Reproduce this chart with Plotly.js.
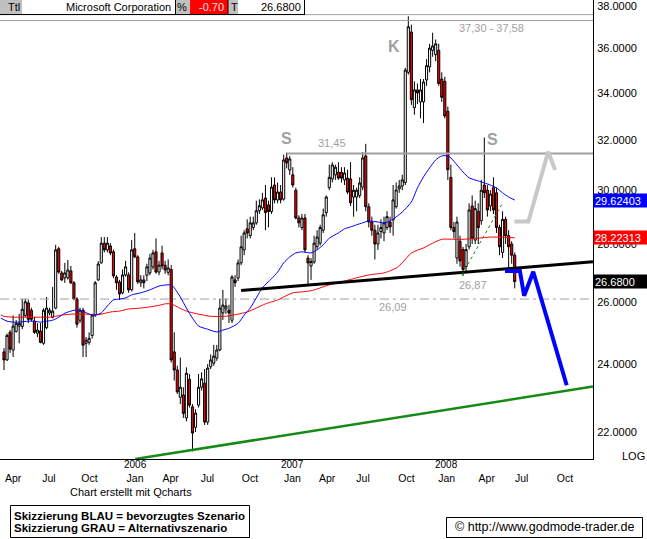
<!DOCTYPE html>
<html>
<head>
<meta charset="utf-8">
<script src="https://cdn.plot.ly/plotly-3.0.1.min.js"></script>
<style>
html,body{margin:0;padding:0;background:#fff;}
#chart{width:647px;height:539px;}
</style>
</head>
<body>
<div id="chart"></div>
<script>
// ---------- DATA (weekly bars, Microsoft Corporation) ----------
const open = [
24.38,24.13,25.00,24.44,25.03,25.20,25.19,25.55,25.96,25.72,
25.36,24.97,25.04,24.65,25.15,25.63,25.49,25.79,27.83,26.98,
26.81,26.81,27.05,26.64,26.09,25.39,25.72,24.65,24.68,24.90,
25.56,26.74,27.33,28.03,27.79,27.93,27.72,26.84,26.67,26.30,
26.91,26.91,26.40,27.83,27.54,26.64,26.74,26.90,26.98,27.19,
27.72,27.01,27.68,27.25,27.00,27.10,24.38,23.82,23.00,23.07,
22.40,23.54,22.72,22.13,22.77,23.30,23.42,22.28,23.92,24.03,
24.19,24.44,25.63,25.76,25.72,25.39,26.74,26.80,27.33,27.79,
28.55,28.30,28.60,28.77,29.22,29.33,29.70,29.44,29.19,30.20,
29.63,29.93,29.66,31.27,30.79,30.60,30.00,28.95,28.60,28.95,
27.50,27.22,27.36,27.90,28.03,28.50,29.15,30.10,30.44,30.60,
30.70,30.70,30.40,30.47,30.44,29.74,29.74,29.80,30.12,31.35,
29.37,28.80,28.50,28.00,28.45,28.40,28.60,28.80,28.88,29.37,
30.05,30.16,30.30,34.90,36.75,33.35,34.12,33.60,33.60,34.56,
35.15,35.90,35.70,35.90,34.60,34.50,33.20,30.50,28.60,27.50,
28.10,27.80,27.20,27.90,29.40,28.14,29.20,28.85,30.20,30.00,
29.40,30.10,29.90,28.60,27.70,28.90,28.30,28.00,27.60];
const high = [
24.50,24.96,25.07,25.55,25.40,25.60,26.10,26.10,26.06,25.80,
25.50,25.30,25.30,25.78,26.16,25.80,26.50,27.97,27.90,27.05,
27.33,27.43,27.22,26.70,26.15,25.80,25.80,24.85,25.00,25.60,
26.70,27.39,28.25,28.25,28.25,28.03,27.80,26.90,26.74,27.10,
27.40,27.00,28.14,28.40,27.60,26.90,26.90,27.30,27.65,27.79,
28.20,27.40,27.94,27.40,27.45,27.25,25.00,23.95,24.20,23.30,
23.90,23.70,22.80,22.65,23.70,23.75,23.85,24.00,24.30,24.60,
24.60,26.10,26.40,26.10,25.90,26.90,26.90,27.45,28.30,28.50,
28.90,29.00,29.00,29.60,29.65,29.90,30.20,29.60,30.50,30.50,
30.30,30.20,31.40,31.48,31.35,30.90,30.10,29.05,29.10,29.10,
27.60,27.50,28.30,28.50,28.70,29.30,29.80,31.00,31.10,31.00,
31.10,30.90,30.90,30.80,31.10,30.20,30.10,30.50,31.50,31.84,
29.50,29.00,28.70,28.70,28.90,29.00,29.20,29.00,30.20,30.30,
30.40,30.60,35.10,37.50,37.10,34.50,34.40,34.60,34.60,35.50,
36.20,36.72,36.40,36.20,34.90,34.70,33.40,31.00,28.80,29.00,
28.30,27.90,28.00,29.50,29.80,29.60,29.50,30.40,32.10,30.20,
30.00,30.50,30.10,28.70,29.20,29.00,28.50,28.10,27.70];
const low = [
23.82,24.10,24.35,24.22,24.99,24.65,25.10,25.50,25.30,25.35,
24.95,24.85,24.65,24.60,25.10,25.55,25.45,25.75,26.95,26.70,
26.64,26.75,26.60,26.05,25.15,25.30,24.22,24.22,24.60,24.80,
25.50,26.70,27.30,27.70,27.70,27.60,26.80,26.40,26.06,26.25,
26.85,26.30,26.35,27.50,26.60,26.50,26.45,26.70,26.90,27.10,
26.95,26.90,27.10,26.95,26.90,24.05,23.50,23.10,22.80,22.40,
22.30,22.70,21.46,22.00,22.70,23.20,22.20,22.20,23.85,23.95,
24.10,24.40,25.40,25.60,25.30,25.30,26.50,26.70,27.25,27.60,
28.20,28.20,28.50,28.70,29.10,29.25,28.50,28.60,29.10,29.50,
29.50,29.50,29.60,30.85,30.60,30.10,28.90,28.60,28.50,27.70,
26.57,26.74,27.30,27.80,27.95,28.40,29.00,30.00,30.30,30.40,
30.40,30.30,30.20,29.85,29.40,29.00,29.20,29.70,30.00,29.20,
28.60,28.30,27.45,27.79,28.20,28.10,28.50,28.40,28.30,29.30,
29.90,30.00,30.20,34.80,33.47,33.05,33.50,32.90,32.70,34.30,
34.90,35.60,35.40,34.30,33.60,32.90,30.40,28.50,28.20,27.30,
27.20,26.87,27.00,27.80,28.00,28.00,28.00,28.70,29.70,29.00,
29.20,29.10,28.40,27.60,27.50,28.00,27.15,27.30,26.45];
const close = [
24.13,24.90,24.47,25.20,25.29,25.29,25.75,26.00,25.42,25.42,
25.00,25.07,24.68,25.72,25.79,25.72,25.69,27.79,27.01,26.74,
26.98,27.08,26.64,26.09,25.26,25.72,24.59,24.75,24.81,25.56,
26.64,27.29,28.03,27.79,28.03,27.68,26.88,26.64,26.26,26.91,
27.19,26.40,27.79,27.54,26.67,26.74,26.64,27.19,27.50,27.68,
27.01,27.25,27.22,27.08,27.15,24.13,23.82,23.16,23.30,22.53,
23.72,22.77,21.97,22.54,23.30,23.55,22.28,23.88,24.13,24.25,
24.44,25.79,25.89,25.86,25.63,26.84,26.64,27.33,27.90,28.40,
28.40,28.77,28.77,29.22,29.41,29.63,29.15,29.19,30.12,29.63,
29.93,29.63,31.19,31.07,31.23,30.20,28.95,28.77,28.95,27.79,
27.33,27.38,28.03,28.25,28.60,29.07,29.74,30.50,30.99,30.90,
30.47,30.47,30.67,29.93,29.52,30.00,30.00,30.28,31.27,29.37,
28.80,28.50,28.00,28.40,28.60,28.77,29.00,28.62,29.63,30.01,
30.16,30.40,35.00,37.00,33.69,34.12,33.99,34.12,34.47,35.20,
36.00,36.10,36.20,34.40,33.80,33.00,30.80,28.60,28.45,28.80,
27.40,27.10,27.80,29.25,28.20,29.30,28.60,30.00,29.90,29.25,
29.85,29.25,28.60,27.90,28.90,28.30,27.90,27.60,26.68];

// moving averages (bar index, price)
const maShortX = [-1,1,3,5,8,10,12,14,16,18,20,22,24,26,28,30,32,34,36,38,40,42,45,48,51,55,56,58,60,62,64,67,70,72,74,77,79,81,83,85,88,90,92,94,96,98,101,103,105,107,110,112,114,116,118,120,123,125,127,129,131,134,136,138,140,142,144,146,147,149,151,153,156,158,160,162,164,166,168];
const maShortY = [25.46,25.36,25.33,25.33,25.36,25.36,25.33,25.36,25.39,25.49,25.62,25.69,25.73,25.69,25.59,25.56,25.63,25.86,26.06,26.09,26.13,26.23,26.30,26.40,26.53,26.57,26.47,26.16,25.79,25.46,25.20,25.10,25.01,25.07,25.13,25.29,25.56,25.79,26.13,26.47,26.78,27.01,27.33,27.54,27.68,27.72,27.68,27.79,27.97,28.21,28.40,28.55,28.62,28.70,28.77,28.84,28.80,28.77,28.84,28.99,29.17,29.55,30.09,30.52,30.87,31.19,31.35,31.35,31.27,30.99,30.71,30.48,30.36,30.28,30.20,30.09,29.90,29.74,29.62403];
const maLongX = [-1,0,3,8,12,15,17,19,22,27,31,35,38,41,45,48,51,53,55,57,59,61,64,68,73,77,80,83,86,90,92,95,98,101,103,107,111,116,120,125,129,131,134,138,141,144,148,151,156,160,163,168];
const maLongY = [25.56,25.52,25.49,25.49,25.49,25.49,25.52,25.56,25.59,25.59,25.57,25.66,25.69,25.76,25.79,25.83,25.88,25.93,25.93,25.83,25.73,25.66,25.59,25.52,25.52,25.59,25.66,25.79,25.93,26.06,26.16,26.30,26.33,26.37,26.43,26.57,26.67,26.81,26.91,26.98,27.15,27.33,27.68,27.86,28.03,28.17,28.17,28.17,28.21,28.25,28.25,28.22313];

// x-axis labels (bar index positions) and years
const tickPos  = [3.0,14.8,28.1,43.1,54.8,66.9,80.9,94.9,106.3,118.1,132.4,145.6,158.8,170.3,184.5];
const tickText = ['Apr','Jul','Oct','Jan','Apr','Jul','Oct','Jan','Apr','Jul','Oct','Jan','Apr','Jul','Oct'];
const yearPos  = [43.1,94.9,145.6];
const yearText = ['2006','2007','2008'];
const yTicks   = [22,24,26,28,30,32,34,36,38];

// drawn analysis levels and sketches
const bandLevels   = [37.58,37.30];
const supportLevel = 26.09;
const markedLow    = 26.87;
const resistX = [93,193.75],  resistY = [31.45,31.45];
const neckX   = [78,193.75],  neckY   = [26.38,27.37];
const trendX  = [43.2,193.75],trendY  = [21.25,23.32];
const minorX  = [150.6,164.1],minorY  = [26.91,29.53];
const blueX = [164.8,169.7,171.1,174.1,185.1], blueY = [27.05,27.05,26.20,27.02,23.36];
const grayX = [167.9,172.5,179.0,181.3],       grayY = [28.82,28.82,31.52,30.79];

// ---------- CHART ----------
const FONT = '"Liberation Sans", Arial, sans-serif';
const PW = 593, PH = 459;
const px = X => X / PW;
const py = Y => 1 - Y / PH;
const xMin = -1.316, xMax = 193.75;
const idx = close.map((_, i) => i);
const n = close.length;
const de = v => v.toFixed(2).replace('.', ',');

function line(x, y, color, width, dash, shape) {
  return {type:'scatter', mode:'lines', x:x, y:y, hoverinfo:'skip',
          line:{color:color, width:width, dash:dash || 'solid', shape:shape || 'linear', smoothing:0.6}};
}

const traces = [];
bandLevels.forEach(v => traces.push(line([xMin,xMax],[v,v],'#a0a0a0',1)));
traces.push(line([xMin,xMax],[supportLevel,supportLevel],'#a0a0a0',1,'9px,4px,3px,4px'));
traces.push(line(resistX, resistY, '#a0a0a0', 2));
traces.push({
  type:'candlestick', x:idx, open:open, high:high, low:low, close:close,
  increasing:{line:{color:'#000', width:1}, fillcolor:'#ffffff'},
  decreasing:{line:{color:'#000', width:1}, fillcolor:'#ff0000'},
  whiskerwidth:0, hoverinfo:'skip'
});
traces.push(line(maLongX, maLongY, '#ff0000', 1, 'solid', 'spline'));
traces.push(line(maShortX, maShortY, '#0000ff', 1, 'solid', 'spline'));
traces.push(line(neckX, neckY, '#000000', 3));
traces.push(line(trendX, trendY, '#168a16', 2.5));
traces.push(line(minorX, minorY, '#168a16', 1, 'dot'));
traces.push(line(grayX, grayY, '#c8c8c8', 4));
traces.push(line(blueX, blueY, '#0000ff', 4));

function txt(X, Y, text, size, color, opts) {
  return Object.assign({xref:'paper', yref:'paper', x:px(X), y:py(Y), text:text,
    showarrow:false, xanchor:'center', yanchor:'middle',
    font:{family:FONT, size:size, color:color}}, opts || {});
}

const annotations = [];
// pattern labels
annotations.push(txt(286, 139, '<b>S</b>', 16, '#a0a0a0'));
annotations.push(txt(394, 46, '<b>K</b>', 16, '#a0a0a0'));
annotations.push(txt(492.5, 139.5, '<b>S</b>', 16, '#a0a0a0'));
annotations.push(txt(331.5, 143, de(resistY[0]), 11, '#a0a0a0'));
annotations.push(txt(491.5, 28, de(bandLevels[1]) + ' - ' + de(bandLevels[0]), 11, '#a0a0a0'));
annotations.push(txt(472.5, 284.5, de(markedLow), 11, '#a0a0a0'));
annotations.push(txt(393, 307, de(supportLevel), 11, '#a0a0a0'));
annotations.push(txt(633, 455.5, 'LOG', 11, '#000'));
// year labels
yearPos.forEach((p, k) => annotations.push({xref:'x', yref:'paper', x:p, y:py(464.5), text:yearText[k],
  showarrow:false, xanchor:'center', yanchor:'middle', borderpad:0,
  font:{family:FONT, size:10, color:'#000'}}));
// last value boxes on right axis
const lastBoxes = [
  [maShortY[maShortY.length-1].toFixed(5), maShortY[maShortY.length-1], '#0000ff'],
  [maLongY[maLongY.length-1].toFixed(5), maLongY[maLongY.length-1], '#ff0000'],
  [close[n-1].toFixed(4), close[n-1], '#000000']
];
lastBoxes.forEach(b => annotations.push({xref:'paper', yref:'y', x:1, y:Math.log10(b[1]),
  text:b[0], showarrow:false, xanchor:'left', yanchor:'middle', align:'left',
  bgcolor:b[2], borderpad:1, width:52, height:11,
  font:{family:FONT, size:11, color:'#ffffff'}}));
// header
annotations.push(txt(14, 7, 'Ttl', 11, '#000'));
annotations.push(txt(173, 7, 'Microsoft Corporation', 11, '#000', {xanchor:'right'}));
annotations.push(txt(182, 7, '%', 11, '#000'));
annotations.push(txt(226, 7, '-0.70', 11, '#e4e4e4', {xanchor:'right'}));
annotations.push(txt(229, 7, 'T', 11, '#000', {xanchor:'left'}));
annotations.push(txt(303, 7, close[n-1].toFixed(4), 11, '#000', {xanchor:'right'}));
// footer
annotations.push(txt(131, 492, 'Chart erstellt mit Qcharts', 11, '#000'));
annotations.push(txt(11.5, 516, '<b>Skizzierung BLAU = bevorzugtes Szenario</b>', 11.5, '#000', {xanchor:'left'}));
annotations.push(txt(11.5, 528, '<b>Skizzierung GRAU = Alternativszenario</b>', 11.5, '#000', {xanchor:'left'}));
annotations.push(txt(544.5, 527.3, '\u00a9 http://www.godmode-trader.de', 12.5, '#000'));

function rect(X0, Y0, X1, Y1, fill, lineColor, lw) {
  return {type:'rect', xref:'paper', yref:'paper', x0:px(X0), x1:px(X1), y0:py(Y1), y1:py(Y0),
          fillcolor:fill, line:{color:lineColor || 'rgba(0,0,0,0)', width:lw || 0}, layer:'above'};
}
function seg(X0, Y0, X1, Y1, color, w) {
  return {type:'line', xref:'paper', yref:'paper', x0:px(X0), x1:px(X1), y0:py(Y0), y1:py(Y1),
          line:{color:color, width:w}, layer:'above'};
}
const shapes = [
  rect(0, 0, 22, 14, '#c0c0c0'),
  rect(22, 0, 176, 14, '#ffffff'),
  rect(176, 0, 190, 14, '#c0c0c0'),
  rect(190, 0, 228, 14, '#ff0000'),
  rect(228, 0, 238, 14, '#c0c0c0'),
  rect(238, 0, 305, 14, '#ffffff'),
  seg(0, 14.5, 305, 14.5, '#000', 1),
  seg(175.5, 0, 175.5, 14.5, '#000', 1),
  seg(228, 0, 228, 14.5, '#000', 1),
  seg(304.5, 0, 304.5, 14.5, '#000', 1),
  rect(10.5, 505.5, 249.5, 537.5, 'rgba(0,0,0,0)', '#000', 1),
  rect(446.5, 517.5, 642.5, 537.5, 'rgba(0,0,0,0)', '#000', 1)
];

const layout = {
  width:647, height:539,
  margin:{l:0, r:54, t:0, b:80, pad:0},
  paper_bgcolor:'#ffffff', plot_bgcolor:'#ffffff',
  showlegend:false, hovermode:false, dragmode:false,
  boxgap:0.3, boxgroupgap:0,
  font:{family:FONT, size:11, color:'#000'},
  xaxis:{type:'linear', range:[xMin, xMax], showgrid:false, zeroline:false,
         showline:true, linecolor:'#000', linewidth:1, ticks:'',
         tickvals:tickPos, ticktext:tickText, ticklabelstandoff:9,
         tickfont:{family:FONT, size:10.5, color:'#000'}, rangeslider:{visible:false}, fixedrange:true},
  yaxis:{type:'log', side:'right', range:[1.32735, 1.58312], showgrid:false, zeroline:false,
         showline:true, linecolor:'#000', linewidth:1, ticks:'',
         tickvals:yTicks, ticktext:yTicks.map(v => v.toFixed(4)), ticklabelstandoff:1,
         ticklabeloverflow:'allow',
         tickfont:{family:FONT, size:11, color:'#000'}, fixedrange:true},
  annotations:annotations,
  shapes:shapes
};

Plotly.newPlot('chart', traces, layout, {staticPlot:true, displayModeBar:false});
</script>
</body>
</html>
